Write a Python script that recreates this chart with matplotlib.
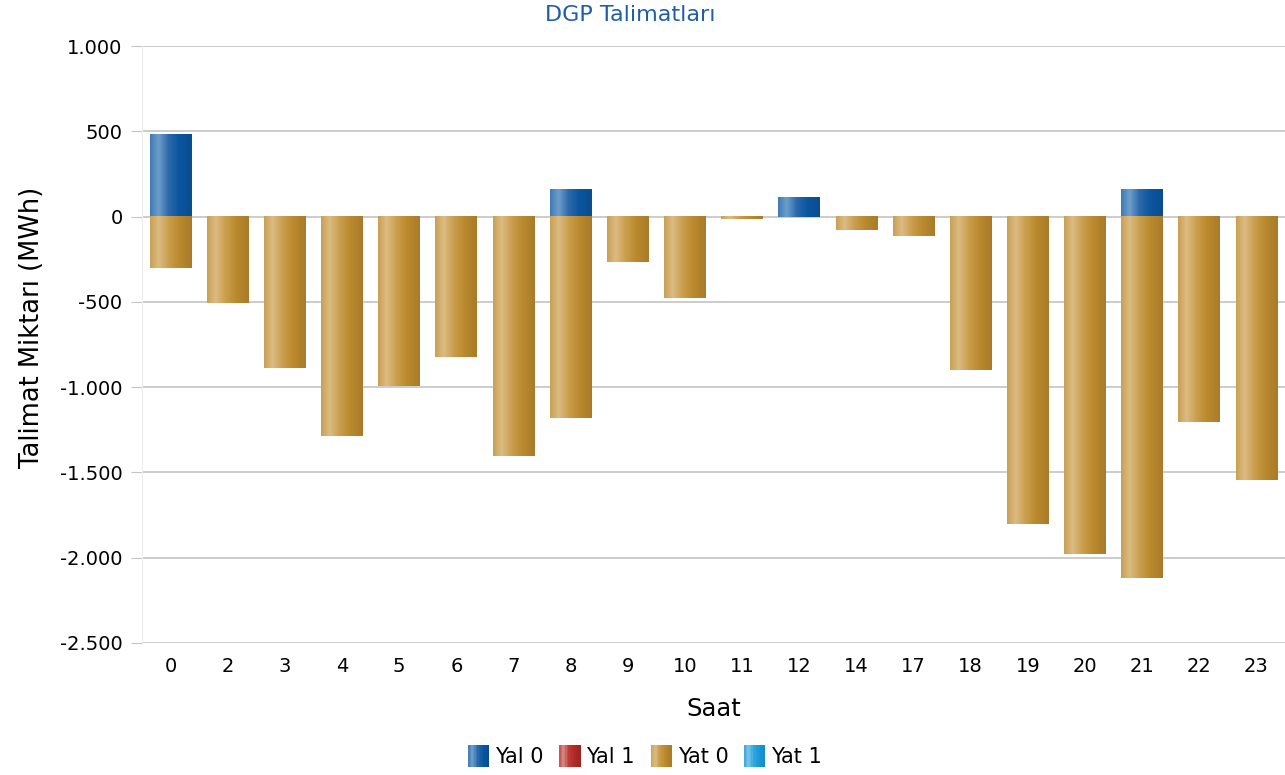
import numpy as np
import matplotlib
matplotlib.use("Agg")
import matplotlib.pyplot as plt
from matplotlib.colors import LinearSegmentedColormap
from matplotlib.legend_handler import HandlerBase
from matplotlib.patches import Rectangle, Patch
from matplotlib.ticker import FuncFormatter

plt.rcParams['font.family'] = ['DejaVu Sans']

hours = ["0", "2", "3", "4", "5", "6", "7", "8", "9", "10", "11", "12", "14", "17", "18", "19", "20", "21", "22", "23"]
yal0 = [485, 0, 0, 0, 0, 0, 0, 162, 0, 0, 0, 115, 0, 0, 0, 0, 0, 162, 0, 0]
yal1 = [0] * 20
yat0 = [-300, -506, -887, -1286, -993, -823, -1403, -1180, -266, -477, -12, 0, -78, -113, -899, -1802, -1978, -2119, -1204, -1544]
yat1 = [0] * 20

series_names = ["Yal 0", "Yal 1", "Yat 0", "Yat 1"]
grads = {
    "Yal 0": ["#3f7ab6", "#6e9fcb", "#2a68aa", "#0a56a0", "#0a4d90"],
    "Yal 1": ["#c0504d", "#d88a88", "#c03a36", "#b02a26", "#9a2420"],
    "Yat 0": ["#c9a055", "#dcbc83", "#c99d4c", "#bb8a2e", "#a97b2a"],
    "Yat 1": ["#3aa6dc", "#7ec6ea", "#35a7e0", "#1b9ad8", "#178ac4"],
}
cmaps = {k: LinearSegmentedColormap.from_list(k, list(zip([0, 0.2, 0.45, 0.7, 1.0], v))) for k, v in grads.items()}
grad_row = np.linspace(0, 1, 64).reshape(1, -1)

fig = plt.figure(figsize=(12.85, 7.75), dpi=100)
ax = fig.add_axes([142 / 1285, 1 - 643 / 775, 1 - 142 / 1285, (643 - 46) / 775])

x = np.arange(len(hours))
width = 0.73

def draw_bars(vals, name, base):
    for xi, v, b in zip(x, vals, base):
        if v == 0:
            continue
        y0, y1 = (b, b + v)
        ax.imshow(grad_row, cmap=cmaps[name], aspect='auto', interpolation='bicubic',
                  extent=[xi - width / 2, xi + width / 2, min(y0, y1), max(y0, y1)], zorder=3)

pos_base = np.zeros(len(hours))
neg_base = np.zeros(len(hours))
for name, vals in zip(series_names, [yal0, yal1, yat0, yat1]):
    vals = np.array(vals, dtype=float)
    base = np.where(vals >= 0, pos_base, neg_base)
    draw_bars(vals, name, base)
    pos_base += np.where(vals > 0, vals, 0)
    neg_base += np.where(vals < 0, vals, 0)

ax.set_xlim(-0.5, len(hours) - 0.5)
ax.set_ylim(-2500, 1000)
ax.set_yticks(np.arange(-2500, 1001, 500))
ax.yaxis.set_major_formatter(FuncFormatter(lambda v, p: f"{int(v):,}".replace(",", ".")))
ax.set_xticks(x)
ax.set_xticklabels(hours)
ax.grid(axis='y', color='#c4c4c4', linewidth=1.2, zorder=0)
ax.set_axisbelow(True)
for s in ['top', 'right', 'bottom']:
    ax.spines[s].set_visible(False)
ax.spines['left'].set_color('#eeeeee')
ax.tick_params(axis='y', length=8, color='#c4c4c4', labelsize=14, pad=6)
ax.tick_params(axis='x', length=0, labelsize=14, pad=10)

fig.text(630 / 1285, 1 - 15 / 775, "DGP Talimatları", color='#1f5fa8', fontsize=16,
         ha='center', va='center')
ax.set_ylabel("Talimat Miktarı (MWh)", fontsize=18.5)
ax.yaxis.set_label_coords(-0.085, 0.528)
ax.set_xlabel("Saat", fontsize=17.5)
ax.xaxis.set_label_coords(0.5, -0.09)


class GradHandler(HandlerBase):
    def create_artists(self, legend, orig_handle, xdescent, ydescent, width, height, fontsize, trans):
        cmap = cmaps[orig_handle.get_label()]
        n = 14
        side_w = width
        side_h = width * 1.05
        arts = []
        for i in range(n):
            r = Rectangle((-xdescent + i * side_w / n, -ydescent + height / 2 - side_h / 2),
                          side_w / n + 0.3, side_h, facecolor=cmap((i + 0.5) / n), edgecolor='none', transform=trans)
            arts.append(r)
        return arts

handles = [Patch(label=n) for n in series_names]
fig.legend(handles=handles, labels=series_names, handler_map={Patch: GradHandler()},
           loc='center', bbox_to_anchor=(645 / 1285, 1 - 757 / 775), ncol=4, frameon=False,
           fontsize=15, handlelength=1.0, handletextpad=0.3, columnspacing=0.75)

fig.savefig("out.png", dpi=100)
